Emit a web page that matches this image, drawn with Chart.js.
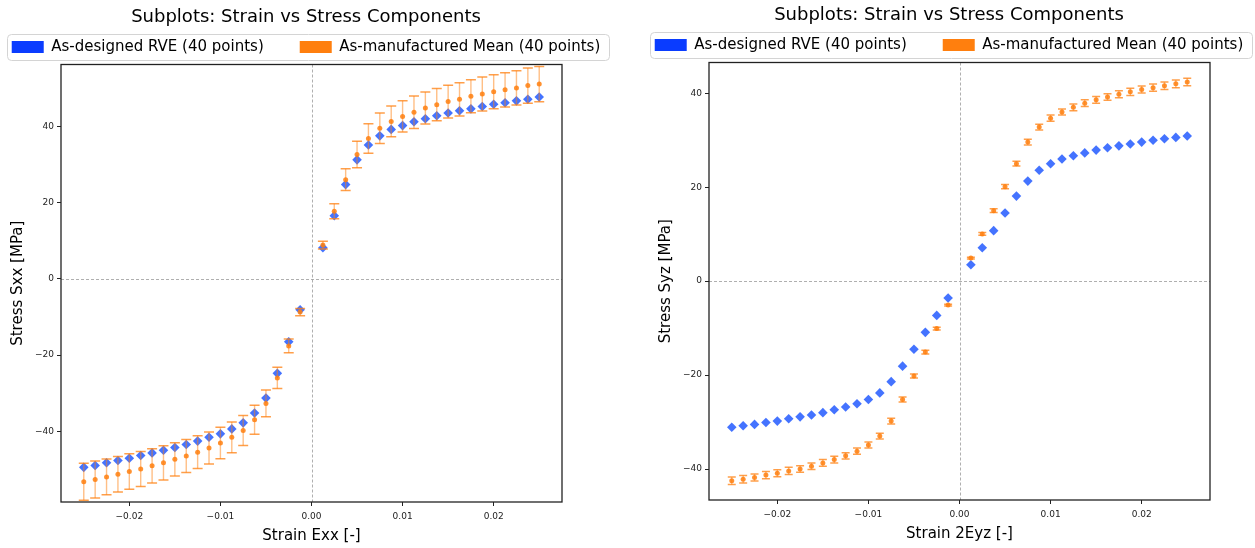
<!DOCTYPE html>
<html><head><meta charset="utf-8">
<script src="https://cdn.jsdelivr.net/npm/chart.js@4.4.1/dist/chart.umd.min.js"></script>
<style>
html,body{margin:0;padding:0;background:#fff;width:1255px;height:548px;overflow:hidden;position:relative;}
canvas{position:absolute;}
#c1{left:-34px;top:0;}
#c2{left:609px;top:-2px;}
</style></head><body>
<canvas id="c1" width="680" height="548"></canvas>
<canvas id="c2" width="680" height="548"></canvas>
<script>
// ---------- DATA ----------
const strain = [-0.025,-0.02375,-0.0225,-0.02125,-0.02,-0.01875,-0.0175,-0.01625,-0.015,-0.01375,
  -0.0125,-0.01125,-0.01,-0.00875,-0.0075,-0.00625,-0.005,-0.00375,-0.0025,-0.00125,
  0.00125,0.0025,0.00375,0.005,0.00625,0.0075,0.00875,0.01,0.01125,0.0125,
  0.01375,0.015,0.01625,0.0175,0.01875,0.02,0.02125,0.0225,0.02375,0.025];

const sxxDesigned = [-49.5,-49.0,-48.3,-47.7,-47.1,-46.4,-45.7,-45.0,-44.3,-43.5,
  -42.6,-41.6,-40.7,-39.4,-37.8,-35.2,-31.3,-24.8,-16.5,-8.1,
  8.2,16.6,24.8,31.3,35.2,37.6,39.3,40.3,41.3,42.1,
  42.9,43.6,44.2,44.7,45.3,45.9,46.3,46.8,47.2,47.8];
const sxxMean = [-53.3,-52.7,-52.0,-51.3,-50.6,-49.9,-49.1,-48.3,-47.4,-46.5,
  -45.5,-44.4,-43.1,-41.6,-39.8,-37.0,-32.7,-26.0,-17.6,-8.7,
  8.9,17.8,26.1,32.7,36.9,39.6,41.4,42.7,43.8,44.9,
  45.8,46.6,47.2,48.0,48.6,49.2,49.7,50.2,50.8,51.2];
const sxxErr = [4.85,4.85,4.7,4.65,4.65,4.6,4.5,4.5,4.4,4.35,
  4.3,4.2,4.15,4.05,3.95,3.8,3.5,2.8,1.8,0.95,
  1.0,1.95,2.85,3.5,3.9,4.0,4.05,4.1,4.25,4.2,
  4.25,4.3,4.35,4.35,4.45,4.45,4.5,4.5,4.6,4.65];

const syzDesigned = [-31.1,-30.8,-30.5,-30.1,-29.8,-29.3,-28.9,-28.5,-28.0,-27.4,
  -26.8,-26.1,-25.2,-23.8,-21.4,-18.1,-14.5,-10.9,-7.3,-3.6,
  3.5,7.1,10.75,14.5,18.1,21.3,23.6,25.0,26.0,26.7,
  27.3,27.9,28.4,28.8,29.2,29.6,30.0,30.3,30.6,30.9];
const syzMean = [-42.5,-42.2,-41.8,-41.3,-40.9,-40.4,-40.0,-39.4,-38.7,-38.0,
  -37.2,-36.2,-34.9,-33.0,-29.8,-25.2,-20.2,-15.1,-10.1,-5.1,
  4.9,10.05,15.0,20.1,25.0,29.6,32.8,34.7,36.0,37.0,
  37.9,38.6,39.2,39.8,40.3,40.8,41.2,41.6,42.0,42.4];
const syzErr = [0.8,0.8,0.75,0.75,0.75,0.75,0.7,0.7,0.7,0.7,
  0.65,0.65,0.65,0.6,0.6,0.55,0.45,0.4,0.3,0.2,
  0.2,0.3,0.4,0.45,0.5,0.6,0.6,0.65,0.65,0.7,
  0.7,0.7,0.7,0.75,0.75,0.75,0.75,0.8,0.8,0.8];

const xTickValues = [-0.02,-0.01,0,0.01,0.02];
const xTickLabels = ['\u22120.02','\u22120.01','0.00','0.01','0.02'];
const yTickValues = [-40,-20,0,20,40];
const yTickLabels = ['\u221240','\u221220','0','20','40'];

const chartTitle = 'Subplots: Strain vs Stress Components';
const seriesNames = ['As-designed RVE (40 points)','As-manufactured Mean (40 points)'];

// ---------- PLUGINS ----------
const FONT = "'DejaVu Sans', sans-serif";

const zeroLines = {
  id:'zeroLines',
  beforeDatasetsDraw(chart){
    const {ctx, chartArea:a, scales:{x,y}} = chart;
    ctx.save();
    ctx.strokeStyle = '#9a9a9a'; ctx.lineWidth = 0.8; ctx.setLineDash([3,2]);
    const px = Math.round(x.getPixelForValue(0)) + 0.5;
    const py = Math.round(y.getPixelForValue(0)) + 0.5;
    ctx.beginPath(); ctx.moveTo(px,a.top); ctx.lineTo(px,a.bottom); ctx.stroke();
    ctx.beginPath(); ctx.moveTo(a.left,py); ctx.lineTo(a.right,py); ctx.stroke();
    ctx.restore();
  }
};

const errorBars = {
  id:'errorBars',
  beforeDatasetDraw(chart, args, opts){
    const ds = chart.data.datasets[args.index];
    if (!ds.errors) return;
    const {ctx, chartArea:a, scales:{x,y}} = chart;
    ctx.save();
    ctx.beginPath(); ctx.rect(a.left,a.top,a.width,a.height); ctx.clip();
    const cw = opts.capHalf || 4.5;
    ds.data.forEach((p,i)=>{
      const e = ds.errors[i];
      const px = x.getPixelForValue(p.x);
      const yt = y.getPixelForValue(p.y + e);
      const yb = y.getPixelForValue(p.y - e);
      ctx.strokeStyle = 'rgba(255,127,14,0.5)'; ctx.lineWidth = 1.4;
      ctx.beginPath(); ctx.moveTo(px,yt); ctx.lineTo(px,yb); ctx.stroke();
      ctx.strokeStyle = 'rgba(255,127,14,0.75)'; ctx.lineWidth = 1.5;
      ctx.beginPath();
      ctx.moveTo(px-cw,yt); ctx.lineTo(px+cw,yt);
      ctx.moveTo(px-cw,yb); ctx.lineTo(px+cw,yb);
      ctx.stroke();
    });
    ctx.restore();
  }
};

const frame = {
  id:'frame',
  afterDraw(chart){
    const {ctx, chartArea:a} = chart;
    ctx.save(); ctx.strokeStyle = '#222'; ctx.lineWidth = 1.3;
    ctx.strokeRect(a.left, a.top, a.width, a.height);
    ctx.restore();
  }
};

const legendFrame = {
  id:'legendFrame',
  afterDraw(chart){
    const lg = chart.legend; if (!lg || !lg.legendItems) return;
    const o = lg.options.labels; const ctx = chart.ctx;
    ctx.save();
    ctx.font = o.font.size + 'px ' + FONT;
    const half = o.font.size/2;
    const widths = lg.legendItems.map(it => o.boxWidth + half + ctx.measureText(it.text).width);
    const total = widths.reduce((s,w)=>s+w,0) + o.padding*(widths.length-1);
    const cx = (lg.left + lg.right)/2;
    const x0 = cx - total/2 - 5, x1 = cx + total/2 + 8;
    const yc = lg.top + o.padding + half;
    ctx.strokeStyle = '#d4d4d4'; ctx.lineWidth = 1;
    ctx.beginPath();
    if (ctx.roundRect) ctx.roundRect(Math.round(x0)+0.5, Math.round(yc-13)+0.5, Math.round(x1-x0), 26, 4);
    else ctx.rect(Math.round(x0)+0.5, Math.round(yc-13)+0.5, Math.round(x1-x0), 26);
    ctx.stroke();
    ctx.restore();
  }
};

function legendLabels(chart){
  const items = Chart.defaults.plugins.legend.labels.generateLabels(chart);
  items.forEach(it=>{
    const ds = chart.data.datasets[it.datasetIndex];
    it.fillStyle = ds.backgroundColor; it.strokeStyle = ds.backgroundColor; it.lineWidth = 0;
  });
  return items;
}

// ---------- CHART BUILDER ----------
function build(id, s){
  const pts = arr => strain.map((v,i)=>({x:v, y:arr[i]}));
  return new Chart(document.getElementById(id), {
    type:'scatter',
    data:{ datasets:[
      { label:seriesNames[0], data:pts(s.designed),
        backgroundColor:'#0a3cff', borderColor:'#0a3cff', borderWidth:0,
        pointBackgroundColor:'rgba(35,90,255,0.85)', pointBorderWidth:0,
        pointStyle:'rectRot', pointRadius:4.8, showLine:false, order:1 },
      { label:seriesNames[1], data:pts(s.mean), errors:s.err,
        backgroundColor:'#ff7f0e', borderColor:'#ff7f0e', borderWidth:0,
        pointBackgroundColor:'rgba(255,127,14,0.85)', pointBorderWidth:0,
        pointStyle:'circle', pointRadius:2.5, showLine:false, order:0 }
    ]},
    options:{
      responsive:false, animation:false, devicePixelRatio:1, events:[],
      layout:{padding:{top:1,left:0,right:0,bottom:0}},
      plugins:{
        title:{display:true, text:chartTitle, color:'#000',
          font:{size:18, family:FONT, weight:'normal'}, padding:{top:6,bottom:-25.1}},
        legend:{display:true, position:'top',
          labels:{boxWidth:32, boxHeight:12, padding:36, color:'#000',
            font:{size:15, family:FONT}, generateLabels:legendLabels,
            sort:(a,b)=>a.datasetIndex-b.datasetIndex}},
        tooltip:{enabled:false},
        errorBars:{capHalf:s.capHalf}
      },
      scales:{
        x:{type:'linear', position:'bottom', min:-0.0275, max:0.0275,
          afterBuildTicks(sc){ sc.ticks = xTickValues.map(v=>({value:v})); },
          afterFit(sc){ sc.height = 46; },
          ticks:{autoSkip:false, maxRotation:0, padding:5, color:'#222',
            font:{size:9, family:FONT},
            callback:(v)=>{ const i = xTickValues.findIndex(t=>Math.abs(t-v)<1e-9); return i>=0 ? xTickLabels[i] : ''; }},
          grid:{drawOnChartArea:false, drawTicks:true, tickLength:4, tickColor:'#222', tickWidth:1},
          border:{display:false},
          title:{display:true, text:s.xTitle, color:'#000', font:{size:15, family:FONT}, padding:{top:0,bottom:2.5}}
        },
        y:{type:'linear', position:'left', min:s.yMin, max:s.yMax,
          afterBuildTicks(sc){ sc.ticks = yTickValues.map(v=>({value:v})); },
          afterFit(sc){ sc.width = s.leftW; },
          ticks:{autoSkip:false, padding:3, color:'#222', font:{size:9, family:FONT},
            callback:(v)=>{ const i = yTickValues.indexOf(v); return i>=0 ? yTickLabels[i] : ''; }},
          grid:{drawOnChartArea:false, drawTicks:true, tickLength:4, tickColor:'#222', tickWidth:1},
          border:{display:false},
          title:{display:true, text:s.yTitle, color:'#000', font:{size:15, family:FONT}, padding:{top:s.yTitlePad,bottom:0}}
        },
        yR:{type:'linear', position:'right', display:true,
          afterFit(sc){ sc.width = s.rightW; },
          ticks:{display:false}, grid:{display:false}, border:{display:false}}
      }
    },
    plugins:[zeroLines, errorBars, frame, legendFrame]
  });
}

build('c1', {designed:sxxDesigned, mean:sxxMean, err:sxxErr, yMin:-58.6, yMax:56.35,
  yTitle:'Stress Sxx [MPa]', xTitle:'Strain Exx [-]', leftW:95, rightW:84, yTitlePad:43, capHalf:5});
build('c2', {designed:syzDesigned, mean:syzMean, err:syzErr, yMin:-46.6, yMax:46.55,
  yTitle:'Stress Syz [MPa]', xTitle:'Strain 2Eyz [-]', leftW:100, rightW:79, yTitlePad:48, capHalf:4});
</script>
</body></html>
